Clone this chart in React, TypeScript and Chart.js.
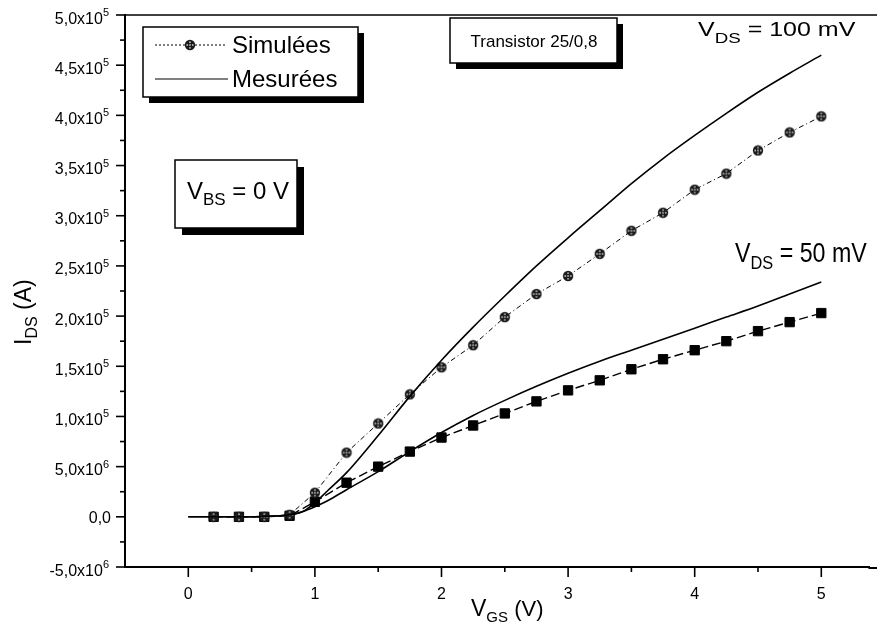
import React, { useEffect, useRef } from "react";
import { Chart, registerables } from "chart.js";
Chart.register(...registerables);

// ---------- data ----------
const simX = [0.2, 0.4, 0.6, 0.8, 1.0, 1.25, 1.5, 1.75, 2.0, 2.25, 2.5, 2.75, 3.0, 3.25, 3.5, 3.75, 4.0, 4.25, 4.5, 4.75, 5.0];
const sim100 = [0, 0, 0, 2e-7, 2.4e-6, 6.4e-6, 9.3e-6, 1.22e-5, 1.49e-5, 1.71e-5, 1.99e-5, 2.22e-5, 2.4e-5, 2.62e-5, 2.85e-5, 3.03e-5, 3.26e-5, 3.42e-5, 3.65e-5, 3.83e-5, 3.99e-5];
const sim50 = [0, 0, 0, 1e-7, 1.5e-6, 3.4e-6, 5.0e-6, 6.5e-6, 7.9e-6, 9.1e-6, 1.03e-5, 1.15e-5, 1.26e-5, 1.36e-5, 1.47e-5, 1.57e-5, 1.66e-5, 1.75e-5, 1.85e-5, 1.94e-5, 2.03e-5];

const measX = [0, 0.4, 0.8, 0.9, 1.0, 1.1, 1.25, 1.5, 1.75, 2.0, 2.25, 2.5, 2.75, 3.0, 3.25, 3.5, 3.75, 4.0, 4.25, 4.5, 4.75, 5.0];
const meas100 = [0, 0, 2e-7, 5e-7, 1.4e-6, 2.6e-6, 4.4e-6, 8.1e-6, 1.2e-5, 1.56e-5, 1.89e-5, 2.2e-5, 2.5e-5, 2.78e-5, 3.05e-5, 3.32e-5, 3.57e-5, 3.8e-5, 4.02e-5, 4.23e-5, 4.42e-5, 4.6e-5];
const meas50 = [0, 0, 2e-7, 5e-7, 1.0e-6, 1.6e-6, 2.7e-6, 4.5e-6, 6.5e-6, 8.4e-6, 1.01e-5, 1.16e-5, 1.3e-5, 1.43e-5, 1.55e-5, 1.66e-5, 1.77e-5, 1.88e-5, 1.99e-5, 2.1e-5, 2.22e-5, 2.34e-5];

const xTickValues = [0, 1, 2, 3, 4, 5];
const xTickLabels = ["0", "1", "2", "3", "4", "5"];
const xMinorTicks = [0.5, 1.5, 2.5, 3.5, 4.5];
const yTickValues = [-5e-6, 0, 5e-6, 1e-5, 1.5e-5, 2e-5, 2.5e-5, 3e-5, 3.5e-5, 4e-5, 4.5e-5, 5e-5];
const yTickMantissas = ["-5,0x10", "0,0", "5,0x10", "1,0x10", "1,5x10", "2,0x10", "2,5x10", "3,0x10", "3,5x10", "4,0x10", "4,5x10", "5,0x10"];
const yTickExponents = ["6", "", "6", "5", "5", "5", "5", "5", "5", "5", "5", "5"];
const yMinorTicks = [-2.5e-6, 2.5e-6, 7.5e-6, 1.25e-5, 1.75e-5, 2.25e-5, 2.75e-5, 3.25e-5, 3.75e-5, 4.25e-5, 4.75e-5];

const legendLabels = ["Simulées", "Mesurées"];
const FONT = '"Liberation Sans", Arial, sans-serif';

function makeCircleMarker(): HTMLCanvasElement {
  const c = document.createElement("canvas");
  c.width = 12;
  c.height = 12;
  const g = c.getContext("2d")!;
  g.fillStyle = "#1a1a1a";
  g.beginPath();
  g.arc(6, 6, 5.2, 0, Math.PI * 2);
  g.fill();
  g.fillStyle = "#bbb";
  const dots = [[6, 3.2], [8.8, 6], [6, 8.8], [3.2, 6], [6, 6]];
  for (const [x, y] of dots) {
    g.beginPath();
    g.arc(x, y, 0.9, 0, Math.PI * 2);
    g.fill();
  }
  return c;
}

type Seg = { t: string; size: number; dy: number };
function drawRich(ctx: CanvasRenderingContext2D, x: number, y: number, segs: Seg[], sx = 1) {
  ctx.save();
  ctx.translate(x, y);
  ctx.scale(sx, 1);
  ctx.textAlign = "left";
  ctx.textBaseline = "alphabetic";
  let cx = 0;
  for (const s of segs) {
    ctx.font = `${s.size}px ${FONT}`;
    ctx.fillText(s.t, cx, s.dy);
    cx += ctx.measureText(s.t).width;
  }
  ctx.restore();
}
function shadowBox(ctx: CanvasRenderingContext2D, x: number, y: number, w: number, h: number, dx: number, dy: number) {
  ctx.fillStyle = "#000";
  ctx.fillRect(x + dx, y + dy, w, h);
  ctx.fillStyle = "#fff";
  ctx.fillRect(x, y, w, h);
  ctx.strokeStyle = "#000";
  ctx.lineWidth = 1.5;
  ctx.strokeRect(x, y, w, h);
}

export default function App() {
  const ref = useRef<HTMLCanvasElement | null>(null);
  useEffect(() => {
    const canvas = ref.current!;
    const marker = makeCircleMarker();

    const overlay = {
      id: "overlay",
      afterDraw(chart: any) {
        const ctx: CanvasRenderingContext2D = chart.ctx;
        const { left, right, top, bottom } = chart.chartArea;
        const W = chart.width;
        const xs = chart.scales.x;
        const ys = chart.scales.y;
        ctx.save();
        ctx.strokeStyle = "#000";
        ctx.fillStyle = "#000";
        const line = (x1: number, y1: number, x2: number, y2: number) => {
          ctx.beginPath();
          ctx.moveTo(x1, y1);
          ctx.lineTo(x2, y2);
          ctx.stroke();
        };
        // frame: top line and bottom axis running to the page edge
        ctx.lineWidth = 1.6;
        line(left, top, W, top);
        ctx.lineWidth = 2;
        line(right - 1, bottom + 1, W, bottom + 1);
        // ticks
        ctx.lineWidth = 1.6;
        xTickValues.forEach((v) => { const p = xs.getPixelForValue(v); line(p, bottom, p, bottom + 10); });
        xMinorTicks.forEach((v) => { const p = xs.getPixelForValue(v); line(p, bottom, p, bottom + 5); });
        yTickValues.forEach((v) => { const p = ys.getPixelForValue(v); line(left, p, left - 9, p); });
        yMinorTicks.forEach((v) => { const p = ys.getPixelForValue(v); line(left, p, left - 5, p); });

        // y tick labels with superscript exponents
        ctx.fillStyle = "#000";
        ctx.textBaseline = "alphabetic";
        yTickValues.forEach((v, i) => {
          const p = ys.getPixelForValue(v);
          const exp = yTickExponents[i];
          const man = yTickMantissas[i];
          ctx.textAlign = "right";
          if (exp) {
            ctx.font = `11px ${FONT}`;
            const ew = ctx.measureText(exp).width;
            ctx.fillText(exp, 109, p + 1);
            ctx.font = `16px ${FONT}`;
            ctx.fillText(man, 109 - ew, p + 8.5);
          } else {
            ctx.font = `16px ${FONT}`;
            ctx.fillText(man, 111, p + 6);
          }
        });

        // axis titles
        drawRich(ctx, 471, 616, [
          { t: "V", size: 23, dy: 0 },
          { t: "GS", size: 15, dy: 6 },
          { t: " (V)", size: 22, dy: 0 },
        ]);
        ctx.save();
        ctx.translate(31, 345);
        ctx.rotate(-Math.PI / 2);
        drawRich(ctx, 0, 0, [
          { t: "I", size: 23, dy: 0 },
          { t: "DS", size: 16, dy: 6 },
          { t: " (A)", size: 23, dy: 0 },
        ]);
        ctx.restore();

        // legend box
        shadowBox(ctx, 143, 27, 215, 70, 6, 6);
        ctx.lineWidth = 1;
        ctx.setLineDash([2, 2]);
        line(155, 45, 227, 45);
        ctx.setLineDash([]);
        ctx.drawImage(marker, 190 - 6, 45 - 6);
        ctx.lineWidth = 1;
        line(155, 79, 228, 79);
        ctx.fillStyle = "#000";
        ctx.font = `24px ${FONT}`;
        ctx.textAlign = "left";
        ctx.textBaseline = "middle";
        ctx.fillText(legendLabels[0], 232, 46);
        ctx.fillText(legendLabels[1], 232, 80);

        // Transistor box
        shadowBox(ctx, 450, 18, 167, 45, 6, 6);
        ctx.fillStyle = "#000";
        ctx.font = `17px ${FONT}`;
        ctx.textAlign = "center";
        ctx.textBaseline = "alphabetic";
        ctx.fillText("Transistor 25/0,8", 534, 47);

        // VBS box
        shadowBox(ctx, 175, 160, 122, 68, 7, 7);
        ctx.fillStyle = "#000";
        drawRich(ctx, 187, 199, [
          { t: "V", size: 24, dy: 0 },
          { t: "BS", size: 17, dy: 6 },
          { t: " = 0 V", size: 24, dy: 0 },
        ]);

        // VDS labels
        drawRich(ctx, 698, 36, [
          { t: "V", size: 20, dy: 0 },
          { t: "DS", size: 15, dy: 7 },
          { t: " = 100 mV", size: 20, dy: 0 },
        ], 1.25);
        drawRich(ctx, 735, 262, [
          { t: "V", size: 27, dy: 0 },
          { t: "DS", size: 19, dy: 7 },
          { t: " = 50 mV", size: 27, dy: 0 },
        ], 0.86);
        ctx.restore();
      },
    };

    const pts = (xa: number[], ya: number[]) => xa.map((x, i) => ({ x, y: ya[i] }));
    const zeroPad = (s: any) => { s.paddingTop = 0; s.paddingBottom = 0; s.paddingLeft = 0; s.paddingRight = 0; };

    const chart = new Chart(canvas, {
      type: "scatter",
      data: {
        datasets: [
          {
            label: "Mesurées 100 mV",
            data: pts(measX, meas100),
            showLine: true,
            borderColor: "#000",
            borderWidth: 1.6,
            pointRadius: 0,
            cubicInterpolationMode: "monotone",
          },
          {
            label: "Mesurées 50 mV",
            data: pts(measX, meas50),
            showLine: true,
            borderColor: "#000",
            borderWidth: 1.6,
            pointRadius: 0,
            cubicInterpolationMode: "monotone",
          },
          {
            label: "Simulées 100 mV",
            data: pts(simX, sim100),
            showLine: true,
            borderColor: "#000",
            borderWidth: 1,
            borderDash: [5, 3, 1, 3],
            pointStyle: marker as any,
            pointRadius: 5,
          },
          {
            label: "Simulées 50 mV",
            data: pts(simX, sim50),
            showLine: true,
            borderColor: "#000",
            borderWidth: 1.4,
            borderDash: [9, 4],
            pointStyle: "rect",
            pointRadius: 6.6,
            pointBackgroundColor: "#000",
            pointBorderColor: "#000",
            pointBorderWidth: 1,
          },
        ],
      },
      options: {
        responsive: false,
        animation: false,
        devicePixelRatio: 1,
        layout: { padding: { left: 0, right: 0, top: 15, bottom: 0 } },
        plugins: { legend: { display: false }, tooltip: { enabled: false } },
        scales: {
          x: {
            type: "linear",
            min: -0.5,
            max: 5.38,
            grid: { display: false },
            border: { display: true, color: "#000", width: 2 },
            afterBuildTicks: (s: any) => { s.ticks = xTickValues.map((v) => ({ value: v })); },
            afterFit: (s: any) => { s.height = 68; zeroPad(s); },
            ticks: {
              color: "#000",
              font: { family: FONT, size: 16 },
              padding: 10,
              maxRotation: 0,
              autoSkip: false,
              callback: (_v: any, i: number) => xTickLabels[i],
            },
          },
          y: {
            type: "linear",
            min: -5e-6,
            max: 5e-5,
            grid: { display: false },
            border: { display: true, color: "#000", width: 2 },
            afterBuildTicks: (s: any) => { s.ticks = yTickValues.map((v) => ({ value: v })); },
            afterFit: (s: any) => { s.width = 125; zeroPad(s); },
            ticks: { display: false },
          },
        },
      },
      plugins: [overlay],
    });
    return () => chart.destroy();
  }, []);

  return (
    <div style={{ position: "fixed", left: 0, top: 0, width: 877, height: 635, background: "#fff" }}>
      <canvas ref={ref} width={877} height={635} style={{ display: "block" }} />
    </div>
  );
}
